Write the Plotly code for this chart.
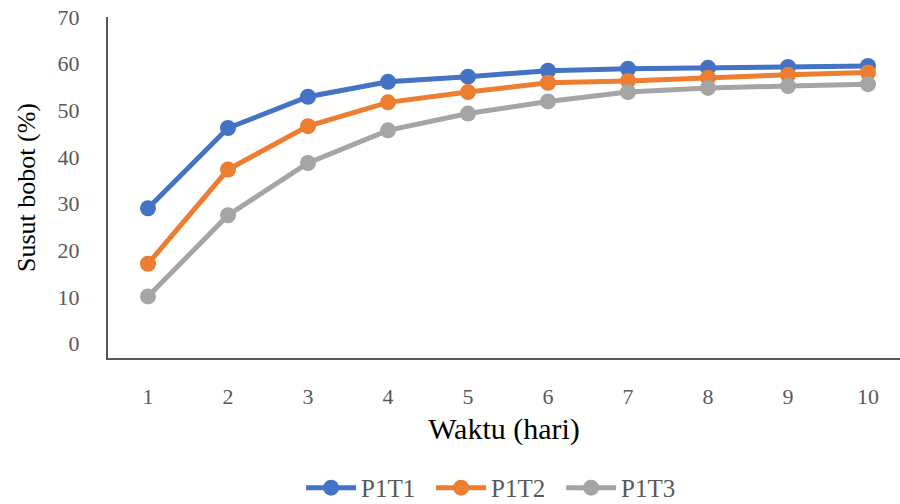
import plotly.graph_objects as go

days = [1, 2, 3, 4, 5, 6, 7, 8, 9, 10]
p1t1 = [29.0, 46.2, 52.9, 56.1, 57.2, 58.5, 58.9, 59.1, 59.3, 59.5]
p1t2 = [17.1, 37.3, 46.6, 51.7, 53.9, 55.9, 56.3, 57.0, 57.6, 58.1]
p1t3 = [10.1, 27.5, 38.7, 45.7, 49.3, 51.9, 53.9, 54.8, 55.2, 55.6]
series_names = ["P1T1", "P1T2", "P1T3"]
colors = ["#4472C4", "#ED7D31", "#A5A5A5"]
y_ticks = [0, 10, 20, 30, 40, 50, 60, 70]

fig = go.Figure()
for name, vals, c in zip(series_names, [p1t1, p1t2, p1t3], colors):
    fig.add_trace(go.Scatter(
        x=days, y=vals, name=name, mode="lines+markers",
        line=dict(color=c, width=5),
        marker=dict(color=c, size=16),
    ))

serif = "Liberation Serif"
fig.update_layout(
    width=900, height=504,
    margin=dict(l=108, r=0, t=17, b=146, autoexpand=False),
    paper_bgcolor="white", plot_bgcolor="white",
    font=dict(family=serif, color="#595959", size=22),
    showlegend=True,
    legend=dict(orientation="h", x=0.49, xanchor="center", y=-0.381, yanchor="middle",
                font=dict(family=serif, size=25, color="#595959"),
                entrywidth=65, entrywidthmode="pixels", itemwidth=50,
                traceorder="normal"),
    xaxis=dict(
        range=[0.5, 10.4], tickmode="array", tickvals=days, ticktext=[str(d) for d in days],
        showgrid=False, zeroline=False, showline=True, linecolor="#595959", linewidth=2,
        automargin=False,
        ticks="", ticklabelstandoff=18, tickfont=dict(family=serif, size=22, color="#595959"),
        title=dict(text="Waktu (hari)", font=dict(family=serif, size=30, color="black"), standoff=10),
    ),
    yaxis=dict(
        range=[-3.1, 70], tickmode="array", tickvals=y_ticks,
        showgrid=False, zeroline=False, showline=True, linecolor="#595959", linewidth=2,
        automargin=False,
        ticks="", ticklabelstandoff=22, tickfont=dict(family=serif, size=22, color="#595959"),
        title=dict(text="Susut bobot (%)", font=dict(family=serif, size=26, color="black"), standoff=14),
    ),
)

fig.write_html("out.html")
